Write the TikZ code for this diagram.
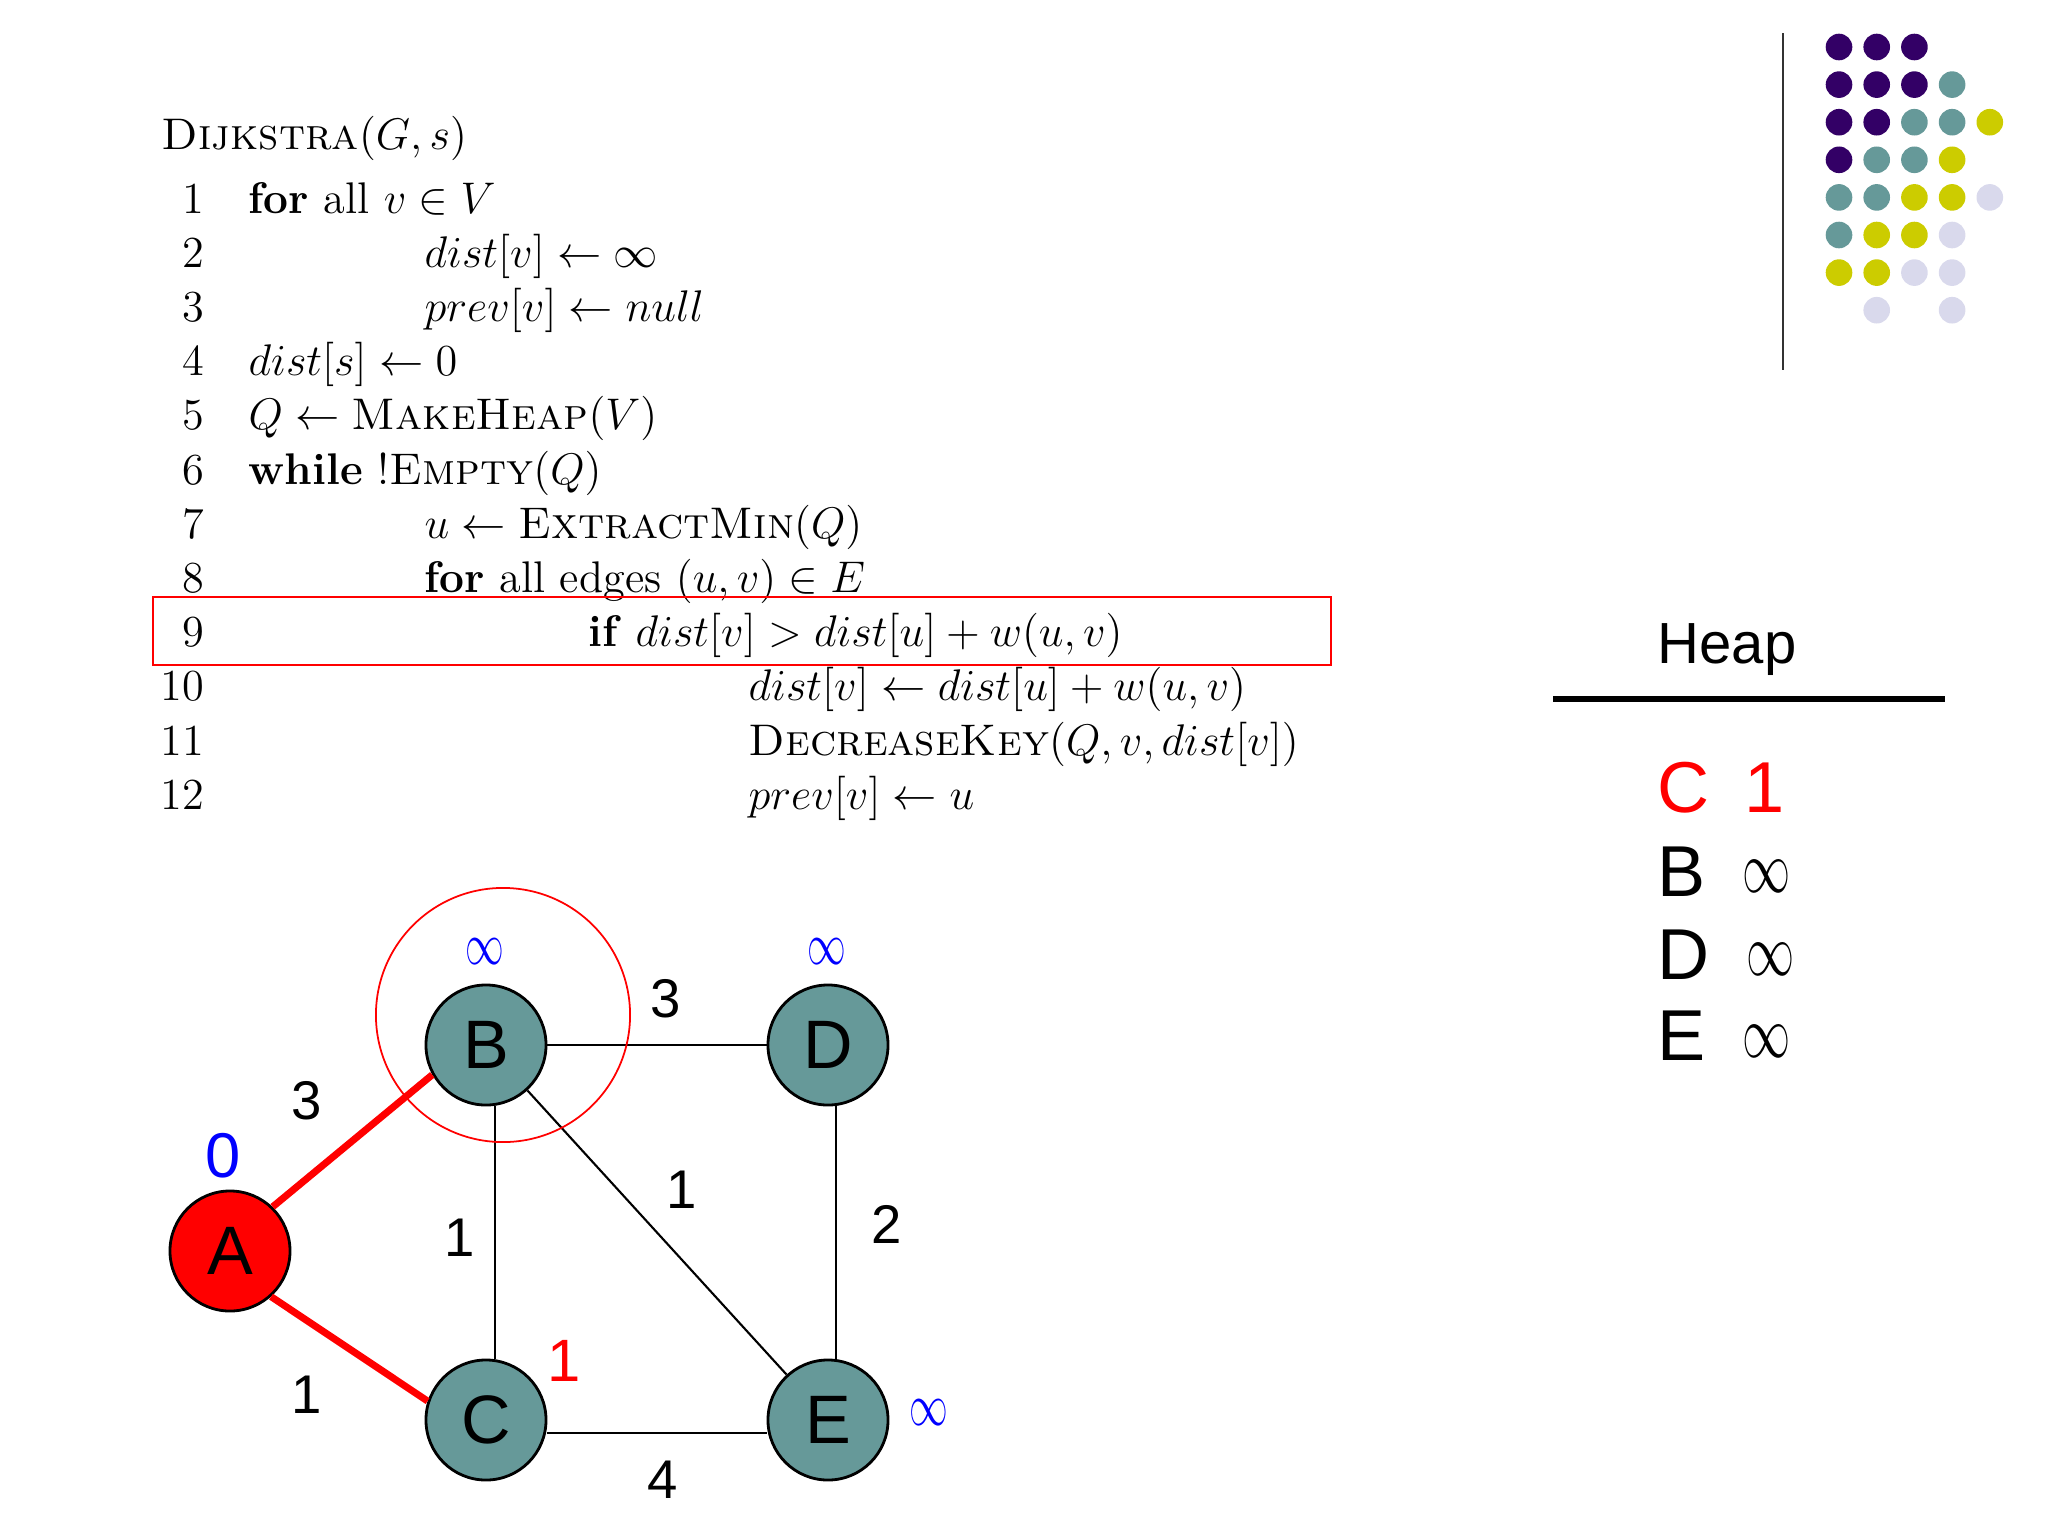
\RequirePackage{fix-cm}
\documentclass[tikz,border=0pt]{standalone}
\usepackage{fontspec}
\usepackage{tikz}
\usetikzlibrary{positioning}
\newfontfamily\arialfont{Liberation Sans}
\definecolor{nodeteal}{RGB}{102,153,153}
\definecolor{dp}{RGB}{51,0,102}
\definecolor{dt}{RGB}{102,153,153}
\definecolor{dy}{RGB}{204,204,0}
\definecolor{dl}{RGB}{217,217,236}
\newcommand{\infmark}{\scalebox{1}[1.55]{$\infty$}}

\begin{document}
\begin{tikzpicture}[x=0.01cm, y=-0.01cm,
    algtext/.style={anchor=base west, inner sep=0pt, font=\fontsize{12.6}{15}\selectfont},
    algnum/.style={anchor=base east, inner sep=0pt, font=\fontsize{12.6}{15}\selectfont},
    hlbox/.style={draw=red, line width=0.6pt},
    vertex/.style={circle, draw=black, line width=0.8pt, fill=nodeteal, minimum size=1.2cm, inner sep=0pt, font=\arialfont\fontsize{19.5}{20}\selectfont},
    link/.style={draw=black, line width=0.6pt},
    treelink/.style={draw=red, line width=2pt},
    weight/.style={inner sep=0pt, font=\arialfont\fontsize{15.5}{16}\selectfont},
    distlabel/.style={inner sep=0pt, text=blue, font=\arialfont\fontsize{18}{18}\selectfont},
    distinf/.style={inner sep=0pt, text=blue, font=\fontsize{11}{11}\selectfont},
    heapentry/.style={anchor=base west, inner sep=0pt, font=\arialfont\fontsize{20.5}{21}\selectfont},
    heapinf/.style={inner sep=0pt, font=\fontsize{13.7}{14}\selectfont},
]
\useasboundingbox (0,0) rectangle (2048,1536);

% pseudocode
\node[algtext] (title) at (161,149) {\textsc{Dijkstra}$(G,s)$};
\foreach \n in {1,...,12}
  \node[algnum] (num\n) at (205,{213+(\n-1)*54.2}) {\n};
\node[algtext] (l1) at (248,213) {\textbf{for} all $v\in V$};
\node[algtext] (l2) at (424,267.2) {$dist[v]\leftarrow\infty$};
\node[algtext] (l3) at (424,321.4) {$prev[v]\leftarrow null$};
\node[algtext] (l4) at (248,375.6) {$dist[s]\leftarrow 0$};
\node[algtext] (l5) at (248,429.8) {$Q\leftarrow{}$\textsc{MakeHeap}$(V)$};
\node[algtext] (l6) at (248,484) {\textbf{while} !\textsc{Empty}$(Q)$};
\node[algtext] (l7) at (424,538.2) {$u\leftarrow{}$\textsc{ExtractMin}$(Q)$};
\node[algtext] (l8) at (424,592.4) {\textbf{for} all edges $(u,v)\in E$};
\node[algtext] (l9) at (588,646.6) {\textbf{if} $dist[v] > dist[u]+w(u,v)$};
\node[algtext] (l10) at (748,700.8) {$dist[v]\leftarrow dist[u]+w(u,v)$};
\node[algtext] (l11) at (748,755) {\textsc{DecreaseKey}$(Q,v,dist[v])$};
\node[algtext] (l12) at (748,809.2) {$prev[v]\leftarrow u$};
\draw[hlbox] (153,597) rectangle (1331,665);

% decoration
\draw[line width=0.8pt, black!80] (1783,33) -- (1783,370);
\foreach [count=\r] \row in {{dp,dp,dp},{dp,dp,dp,dt},{dp,dp,dt,dt,dy},{dp,dt,dt,dy},
    {dt,dt,dy,dy,dl},{dt,dy,dy,dl},{dy,dy,dl,dl},{none,dl,none,dl}}
  \foreach [count=\c] \col in \row
    \path[fill=\col] ({1839+(\c-1)*37.7},{47+(\r-1)*37.6}) circle[radius=0.133cm];

% graph
\node[vertex, fill=red] (A) at (230,1251) {A};
\node[vertex] (B) at (486,1045) {B};
\node[vertex] (D) at (828,1045) {D};
\node[vertex] (C) at (486,1420) {C};
\node[vertex] (E) at (828,1420) {E};

\draw[treelink] (A.46) -- (B.209);
\draw[treelink] (A.-48) -- (C.162);
\draw[link] (B) -- (D);
\draw[link] ([xshift=0.09cm]B.south) -- ([xshift=0.09cm]C.north);
\draw[link] (B) -- (E);
\draw[link] ([xshift=0.08cm]D.south) -- ([xshift=0.08cm]E.north);
\draw[link] ([yshift=-0.13cm]C.east) -- ([yshift=-0.13cm]E.west);
\node[draw=red, line width=0.5pt, circle, minimum size=2.54cm] (focus) at (503,1015) {};

\node[weight] (wab) at (307,1101) {3};
\node[weight] (wac) at (307,1395) {1};
\node[weight] (wbd) at (666,999) {3};
\node[weight] (wbc) at (460,1238) {1};
\node[weight] (wbe) at (682,1190) {1};
\node[weight] (wde) at (887,1224) {2};
\node[weight] (wce) at (663,1480) {4};

\node[distlabel] (da) at (223,1156) {0};
\node[distinf] (db) at (485,952) {\infmark};
\node[distinf] (dd) at (827,952) {\infmark};
\node[distlabel, text=red, font=\arialfont\fontsize{17}{17}\selectfont] (dc) at (564,1361) {1};
\node[distinf] (de) at (929,1413) {\infmark};

% heap
\node[anchor=base, inner sep=0pt, font=\arialfont\fontsize{16.5}{17}\selectfont] (heap) at (1727,663) {Heap};
\draw[line width=1.5pt] (1553,699) -- (1945,699);
\node[heapentry, text=red] (hc) at (1657,812) {C};
\node[heapentry, text=red, anchor=base] (hc1) at (1765,812) {1};
\node[heapentry] (hb) at (1657,896) {B};
\node[heapinf] (hb1) at (1767,876) {\infmark};
\node[heapentry] (hd) at (1657,979) {D};
\node[heapinf] (hd1) at (1771,959) {\infmark};
\node[heapentry] (he) at (1657,1060) {E};
\node[heapinf] (he1) at (1767,1041) {\infmark};
\end{tikzpicture}
\end{document}
